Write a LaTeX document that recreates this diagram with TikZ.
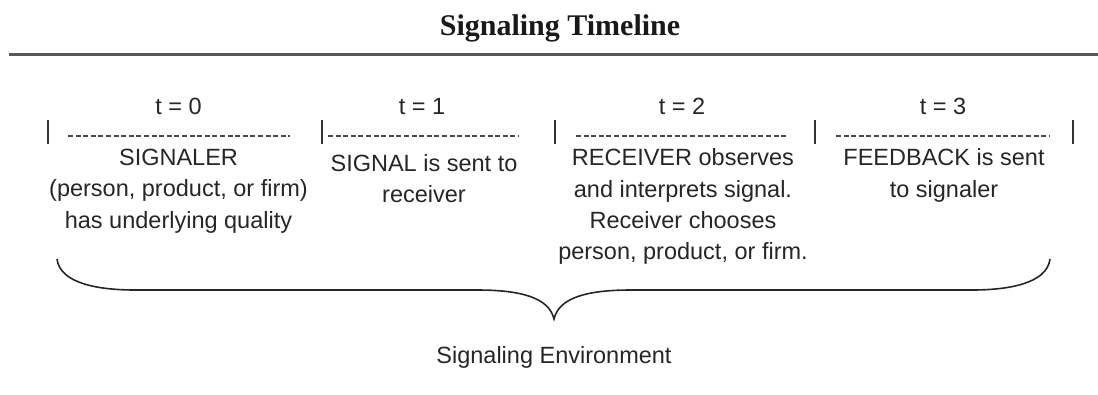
\documentclass[tikz,border=0pt]{standalone}
\usepackage{fontspec}
\setmainfont{Liberation Sans}
\newfontfamily\titlefont{Liberation Serif}
\begin{document}
\begin{tikzpicture}[x=1pt,y=-1pt,
  txt/.style={inner sep=0pt,anchor=base,align=center,text=black!85,
    font=\fontsize{23.5}{31.2}\selectfont},
  bar/.style={line width=2pt,draw=black!80},
  dashrule/.style={line width=1.8pt,draw=black!70,dash pattern=on 5pt off 2.6pt},
  brace/.style={line width=1.6pt,draw=black!85}]
\useasboundingbox (0,0) rectangle (1098,394);
% title
\node[inner sep=0pt,anchor=base,text=black!90,font=\titlefont\bfseries\fontsize{30}{36}\selectfont] (title) at (560,35) {Signaling Timeline};
\draw[line width=2.2pt,draw=black!65] (9,54.5) -- (1098,54.5);
% time labels
\node[txt] (t0) at (178.5,114.5) {t = 0};
\node[txt] (t1) at (422,114.5) {t = 1};
\node[txt] (t2) at (682,114.5) {t = 2};
\node[txt] (t3) at (943,114.5) {t = 3};
% bars
\foreach \x in {48,322,555,815,1073} \draw[bar] (\x,120) -- (\x,144);
% dashed rules
\draw[dashrule] (68,136) -- (290,136);
\draw[dashrule] (328,136) -- (519,136);
\draw[dashrule] (576,136) -- (788,136);
\draw[dashrule] (836,136) -- (1050,136);
% texts (anchor base = baseline of last line)
\node[txt] (c0) at (178.5,228) {SIGNALER\\(person, product, or firm)\\has underlying quality};
\node[txt] (c1) at (424,202.5) {SIGNAL is sent to\\receiver};
\node[txt] (c2) at (683,259.5) {RECEIVER observes\\and interprets signal.\\Receiver chooses\\person, product, or firm.};
\node[txt] (c3) at (944,197) {FEEDBACK is sent\\to signaler};
% brace
\draw[brace] (57,259) .. controls (60,284) and (100,290) .. (135,290)
  -- (477,290) .. controls (522,290) and (549,298) .. (554,319)
  .. controls (559,298) and (586,290) .. (631,290)
  -- (972,290) .. controls (1007,290) and (1047,284) .. (1050,259);
\node[txt] (env) at (554,363) {Signaling Environment};
\end{tikzpicture}
\end{document}
